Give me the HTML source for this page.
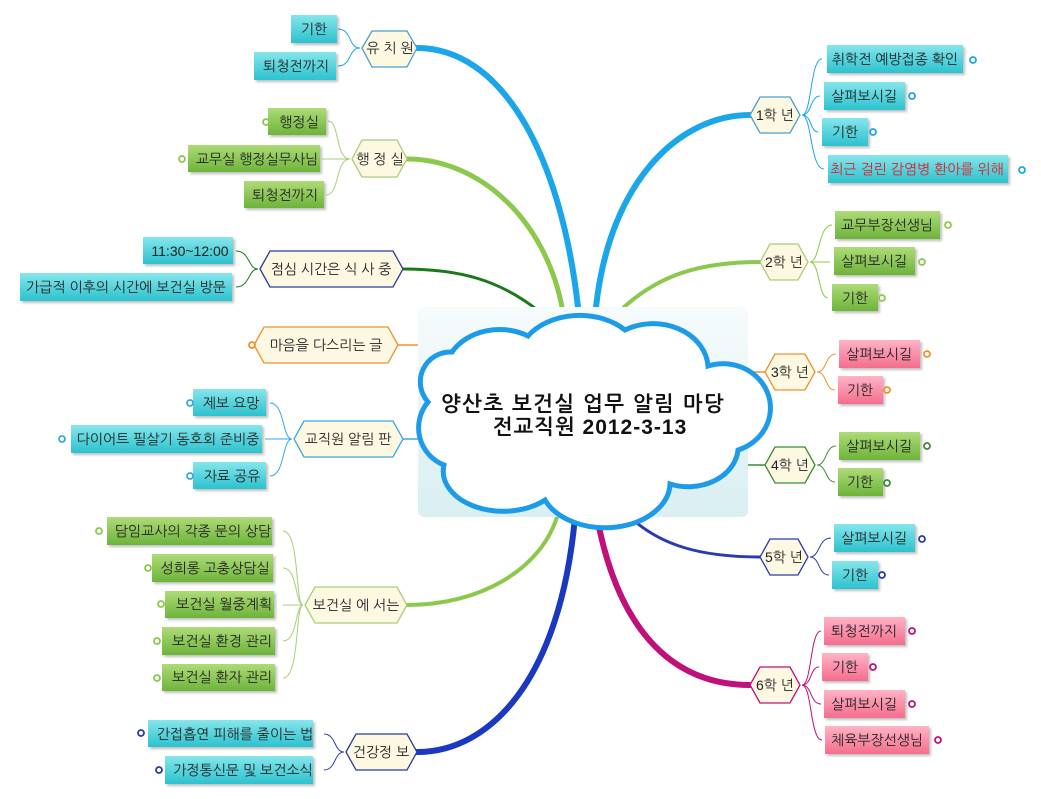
<!DOCTYPE html>
<html><head><meta charset="utf-8"><style>
html,body{margin:0;padding:0;background:#fff;}
svg{display:block;}
text{font-family:"Liberation Sans","NanumGothic","Noto Sans CJK KR",sans-serif;font-size:14px;fill:#222;}
.t{text-anchor:middle;}
</style></head><body>
<svg width="1041" height="799" viewBox="0 0 1041 799" xmlns="http://www.w3.org/2000/svg">
<defs>
<linearGradient id="cy" x1="0" y1="0" x2="0" y2="1"><stop offset="0" stop-color="#86e6ec"/><stop offset="1" stop-color="#2cc2ce"/></linearGradient>
<linearGradient id="gr" x1="0" y1="0" x2="0" y2="1"><stop offset="0" stop-color="#aedb78"/><stop offset="1" stop-color="#6db43a"/></linearGradient>
<linearGradient id="pk" x1="0" y1="0" x2="0" y2="1"><stop offset="0" stop-color="#ffb3c6"/><stop offset="1" stop-color="#f46d8e"/></linearGradient>
<linearGradient id="bg" x1="0" y1="0" x2="0" y2="1"><stop offset="0" stop-color="#f6fbfc"/><stop offset="1" stop-color="#d9eff2"/></linearGradient>
<filter id="sh" x="-10%" y="-10%" width="130%" height="140%"><feDropShadow dx="2" dy="2" stdDeviation="1.2" flood-color="#000" flood-opacity="0.25"/></filter>
</defs>

<g fill="none" stroke-linecap="round">
<path d="M578 307 C560 150 500 48 417 48" stroke="#1ba6ea" stroke-width="6"/>
<path d="M596 307 C610 180 680 115 750 115" stroke="#1ba6ea" stroke-width="6"/>
<path d="M562 307 C545 220 480 159 407 159" stroke="#8cc84b" stroke-width="5"/>
<path d="M624 307 C660 275 700 262 760 262" stroke="#8cc84b" stroke-width="4"/>
<path d="M540 312 C500 280 460 269 403 269" stroke="#1a7a1a" stroke-width="3"/>
<path d="M418 345 L398 345" stroke="#f0902a" stroke-width="1.5"/>
<path d="M418 439 L403 439" stroke="#3aa8e0" stroke-width="1.5"/>
<path d="M748 372 L765 372" stroke="#f0902a" stroke-width="1.5"/>
<path d="M748 465 L765 465" stroke="#3a8a3a" stroke-width="1.5"/>
<path d="M557 517 C540 570 480 605 407 605" stroke="#8cc84b" stroke-width="4"/>
<path d="M575 517 C560 680 490 752 417 752" stroke="#1a38c0" stroke-width="6"/>
<path d="M597 517 C620 640 680 685 750 685" stroke="#c0107a" stroke-width="6"/>
<path d="M630 517 C660 545 700 557 760 557" stroke="#2a3ab0" stroke-width="3"/>
</g>

<rect x="418" y="307" width="330" height="210" rx="6" fill="url(#bg)"/>
<path d="M452 352 A55 45 0 0 1 528 336 A62 46 0 0 1 625 330 A55 45 0 0 1 708 366 A45 42 0 0 1 738 450 A50 40 0 0 1 670 484 A65 45 0 0 1 545 500 A60 40 0 0 1 444 465 A40 40 0 0 1 428 402 A30 30 0 0 1 452 352 Z" fill="#fff" stroke="#1e9be8" stroke-width="5"/>
<text x="583" y="411" class="t" style="font-size:21px;font-weight:bold;fill:#111;letter-spacing:1.5px">양산초 보건실 업무 알림 마당</text>
<text x="590" y="434" class="t" style="font-size:21px;font-weight:bold;fill:#111;letter-spacing:1px">전교직원 2012-3-13</text>

<g fill="none" stroke-width="1">
<g stroke="#1ba6ea"><path d="M360 48 C348 48 352 29 338 29"/><path d="M360 48 C348 48 352 66 338 66"/></g>
<g stroke="#a8cf78"><path d="M350 159 C335 159 340 121 328 121"/><path d="M350 159 L322 159"/><path d="M350 159 C335 159 340 195 326 195"/></g>
<g stroke="#1a7a1a"><path d="M258 269 C248 269 250 251 236 251"/><path d="M258 269 C248 269 250 287 236 287"/></g>
<g stroke="#3aa8e0"><path d="M292 439 C282 439 285 403 270 403"/><path d="M292 439 L265 439"/><path d="M292 439 C282 439 285 476 270 476"/></g>
<g stroke="#a8cf78"><path d="M303 605 C295 605 300 531 283 531"/><path d="M303 605 C295 605 298 568 283 568"/><path d="M303 605 L283 605"/><path d="M303 605 C295 605 298 641 283 641"/><path d="M303 605 C295 605 300 678 283 678"/></g>
<g stroke="#2a3ab0"><path d="M344 752 C334 752 336 734 324 734"/><path d="M344 752 C334 752 336 770 324 770"/></g>
<g stroke="#1ba6ea"><path d="M802 115 C812 115 810 59 822 59"/><path d="M802 115 C812 115 810 96 820 96"/><path d="M802 115 C812 115 810 132 818 132"/><path d="M802 115 C812 115 810 169 824 169"/></g>
<g stroke="#8cc84b"><path d="M810 262 C820 262 818 225 832 225"/><path d="M810 262 L830 262"/><path d="M810 262 C820 262 818 298 828 298"/></g>
<g stroke="#f0902a"><path d="M817 372 C827 372 825 354 836 354"/><path d="M817 372 C827 372 825 390 835 390"/></g>
<g stroke="#3a8a3a"><path d="M817 465 C827 465 825 446 836 446"/><path d="M817 465 C827 465 825 482 835 482"/></g>
<g stroke="#2a3ab0"><path d="M810 557 C820 557 818 538 831 538"/><path d="M810 557 C820 557 818 575 829 575"/></g>
<g stroke="#c0107a"><path d="M802 685 C812 685 810 631 821 631"/><path d="M802 685 C812 685 810 667 819 667"/><path d="M802 685 C812 685 810 704 821 704"/><path d="M802 685 C812 685 810 740 822 740"/></g>
</g>

<g fill="#fdf8e2" stroke-width="1.3">
<path d="M362 48 L372 31 L407 31 L417 48 L407 67 L372 67 Z" stroke="#4a9fd0"/>
<path d="M352 159 L362 140 L397 140 L407 159 L397 177 L362 177 Z" stroke="#a8cf78"/>
<path d="M260 269 L270 251 L393 251 L403 269 L393 287 L270 287 Z" stroke="#2a3a9a"/>
<path d="M254 345 L264 327 L388 327 L398 345 L388 363 L264 363 Z" stroke="#f0902a"/>
<path d="M294 439 L304 421 L393 421 L403 439 L393 457 L304 457 Z" stroke="#3aa8e0"/>
<path d="M305 605 L315 587 L397 587 L407 605 L397 623 L315 623 Z" stroke="#a8cf78"/>
<path d="M346 752 L356 734 L407 734 L417 752 L407 770 L356 770 Z" stroke="#2a3a9a"/>
<path d="M750 115 L760 97 L790 97 L800 115 L790 133 L760 133 Z" stroke="#4a9fd0"/>
<path d="M760 262 L770 244 L798 244 L808 262 L798 280 L770 280 Z" stroke="#a8cf78"/>
<path d="M765 372 L775 354 L805 354 L815 372 L805 390 L775 390 Z" stroke="#f0902a"/>
<path d="M765 465 L775 447 L805 447 L815 465 L805 483 L775 483 Z" stroke="#3a8a3a"/>
<path d="M760 557 L770 539 L798 539 L808 557 L798 575 L770 575 Z" stroke="#2a3ab0"/>
<path d="M750 685 L760 667 L790 667 L800 685 L790 703 L760 703 Z" stroke="#c0107a"/>
</g>
<g>
<text x="390" y="53" class="t">유 치 원</text>
<text x="380" y="164" class="t">행 정 실</text>
<text x="331" y="274" class="t">점심 시간은 식 사 중</text>
<text x="326" y="350" class="t">마음을 다스리는 글</text>
<text x="348" y="444" class="t">교직원 알림 판</text>
<text x="356" y="610" class="t">보건실 에 서는</text>
<text x="381" y="757" class="t">건강정 보</text>
<text x="775" y="120" class="t">1학 년</text>
<text x="784" y="267" class="t">2학 년</text>
<text x="790" y="377" class="t">3학 년</text>
<text x="790" y="470" class="t">4학 년</text>
<text x="784" y="562" class="t">5학 년</text>
<text x="775" y="690" class="t">6학 년</text>
</g>

<g filter="url(#sh)">
<rect x="291" y="15" width="46" height="28" fill="url(#cy)"/>
<rect x="254" y="52" width="82" height="28" fill="url(#cy)"/>
<rect x="268" y="108" width="58" height="27" fill="url(#gr)"/>
<rect x="188" y="145" width="132" height="27" fill="url(#gr)"/>
<rect x="244" y="181" width="80" height="27" fill="url(#gr)"/>
<rect x="143" y="237" width="90" height="27" fill="url(#cy)"/>
<rect x="20" y="273" width="212" height="28" fill="url(#cy)"/>
<rect x="193" y="389" width="73" height="27" fill="url(#cy)"/>
<rect x="71" y="425" width="191" height="28" fill="url(#cy)"/>
<rect x="193" y="462" width="73" height="27" fill="url(#cy)"/>
<rect x="107" y="517" width="165" height="28" fill="url(#gr)"/>
<rect x="152" y="554" width="121" height="28" fill="url(#gr)"/>
<rect x="165" y="591" width="109" height="27" fill="url(#gr)"/>
<rect x="162" y="627" width="113" height="28" fill="url(#gr)"/>
<rect x="162" y="664" width="113" height="27" fill="url(#gr)"/>
<rect x="148" y="720" width="165" height="27" fill="url(#cy)"/>
<rect x="165" y="756" width="148" height="28" fill="url(#cy)"/>
<rect x="827" y="45" width="136" height="28" fill="url(#cy)"/>
<rect x="824" y="82" width="81" height="28" fill="url(#cy)"/>
<rect x="822" y="118" width="46" height="28" fill="url(#cy)"/>
<rect x="828" y="155" width="180" height="28" fill="url(#cy)"/>
<rect x="835" y="211" width="105" height="28" fill="url(#gr)"/>
<rect x="834" y="247" width="81" height="28" fill="url(#gr)"/>
<rect x="832" y="284" width="46" height="27" fill="url(#gr)"/>
<rect x="839" y="340" width="81" height="28" fill="url(#pk)"/>
<rect x="838" y="376" width="45" height="28" fill="url(#pk)"/>
<rect x="839" y="432" width="81" height="28" fill="url(#gr)"/>
<rect x="838" y="468" width="45" height="28" fill="url(#gr)"/>
<rect x="834" y="524" width="81" height="28" fill="url(#cy)"/>
<rect x="832" y="561" width="46" height="28" fill="url(#cy)"/>
<rect x="824" y="617" width="81" height="28" fill="url(#pk)"/>
<rect x="822" y="653" width="46" height="28" fill="url(#pk)"/>
<rect x="824" y="690" width="81" height="28" fill="url(#pk)"/>
<rect x="825" y="726" width="104" height="28" fill="url(#pk)"/>
</g>
<g>
<text x="314" y="34" class="t">기한</text>
<text x="296" y="71" class="t">퇴청전까지</text>
<text x="299" y="127" class="t">행정실</text>
<text x="257" y="164" class="t">교무실 행정실무사님</text>
<text x="285" y="200" class="t">퇴청전까지</text>
<text x="190" y="256" class="t">11:30~12:00</text>
<text x="126" y="292" class="t">가급적 이후의 시간에 보건실 방문</text>
<text x="231" y="408" class="t">제보 요망</text>
<text x="168" y="444" class="t">다이어트 필살기 동호회 준비중</text>
<text x="232" y="481" class="t">자료 공유</text>
<text x="193" y="536" class="t">담임교사의 각종 문의 상담</text>
<text x="215" y="573" class="t">성희롱 고충상담실</text>
<text x="224" y="609" class="t">보건실 월중계획</text>
<text x="222" y="646" class="t">보건실 환경 관리</text>
<text x="222" y="682" class="t">보건실 환자 관리</text>
<text x="235" y="739" class="t">간접흡연 피해를 줄이는 법</text>
<text x="243" y="775" class="t">가정통신문 및 보건소식</text>
<text x="895" y="64" class="t">취학전 예방접종 확인</text>
<text x="864" y="101" class="t">살펴보시길</text>
<text x="845" y="137" class="t">기한</text>
<text x="917" y="174" class="t" style="fill:#e0202a">최근 걸린 감염병 환아를 위해</text>
<text x="887" y="230" class="t">교무부장선생님</text>
<text x="874" y="266" class="t">살펴보시길</text>
<text x="855" y="303" class="t">기한</text>
<text x="879" y="359" class="t">살펴보시길</text>
<text x="860" y="395" class="t">기한</text>
<text x="879" y="451" class="t">살펴보시길</text>
<text x="860" y="487" class="t">기한</text>
<text x="874" y="543" class="t">살펴보시길</text>
<text x="855" y="580" class="t">기한</text>
<text x="864" y="636" class="t">퇴청전까지</text>
<text x="845" y="672" class="t">기한</text>
<text x="864" y="709" class="t">살펴보시길</text>
<text x="877" y="745" class="t">체육부장선생님</text>
</g>

<g fill="#fff" stroke-width="1.8">
<circle cx="266" cy="122" r="3" stroke="#8cc84b"/>
<circle cx="182" cy="159" r="3" stroke="#8cc84b"/>
<circle cx="252" cy="345" r="3" stroke="#f0902a"/>
<circle cx="190" cy="403" r="3" stroke="#3aa8e0"/>
<circle cx="62" cy="439" r="3" stroke="#3aa8e0"/>
<circle cx="190" cy="476" r="3" stroke="#3aa8e0"/>
<circle cx="99" cy="531" r="3" stroke="#8cc84b"/>
<circle cx="148" cy="568" r="3" stroke="#8cc84b"/>
<circle cx="161" cy="604" r="3" stroke="#8cc84b"/>
<circle cx="157" cy="641" r="3" stroke="#8cc84b"/>
<circle cx="157" cy="678" r="3" stroke="#8cc84b"/>
<circle cx="141" cy="733" r="3" stroke="#2a3ab0"/>
<circle cx="159" cy="770" r="3" stroke="#2a3ab0"/>
<circle cx="973" cy="60" r="3" stroke="#1ba6ea"/>
<circle cx="912" cy="96" r="3" stroke="#1ba6ea"/>
<circle cx="873" cy="132" r="3" stroke="#1ba6ea"/>
<circle cx="1022" cy="170" r="3" stroke="#1ba6ea"/>
<circle cx="948" cy="225" r="3" stroke="#8cc84b"/>
<circle cx="922" cy="262" r="3" stroke="#8cc84b"/>
<circle cx="882" cy="298" r="3" stroke="#8cc84b"/>
<circle cx="927" cy="354" r="3" stroke="#f0902a"/>
<circle cx="887" cy="390" r="3" stroke="#f0902a"/>
<circle cx="927" cy="446" r="3" stroke="#3a8a3a"/>
<circle cx="887" cy="483" r="3" stroke="#3a8a3a"/>
<circle cx="922" cy="539" r="3" stroke="#2a3ab0"/>
<circle cx="882" cy="575" r="3" stroke="#2a3ab0"/>
<circle cx="912" cy="631" r="3" stroke="#c0107a"/>
<circle cx="873" cy="667" r="3" stroke="#c0107a"/>
<circle cx="912" cy="704" r="3" stroke="#c0107a"/>
<circle cx="938" cy="740" r="3" stroke="#c0107a"/>
</g>
</svg>
</body></html>
